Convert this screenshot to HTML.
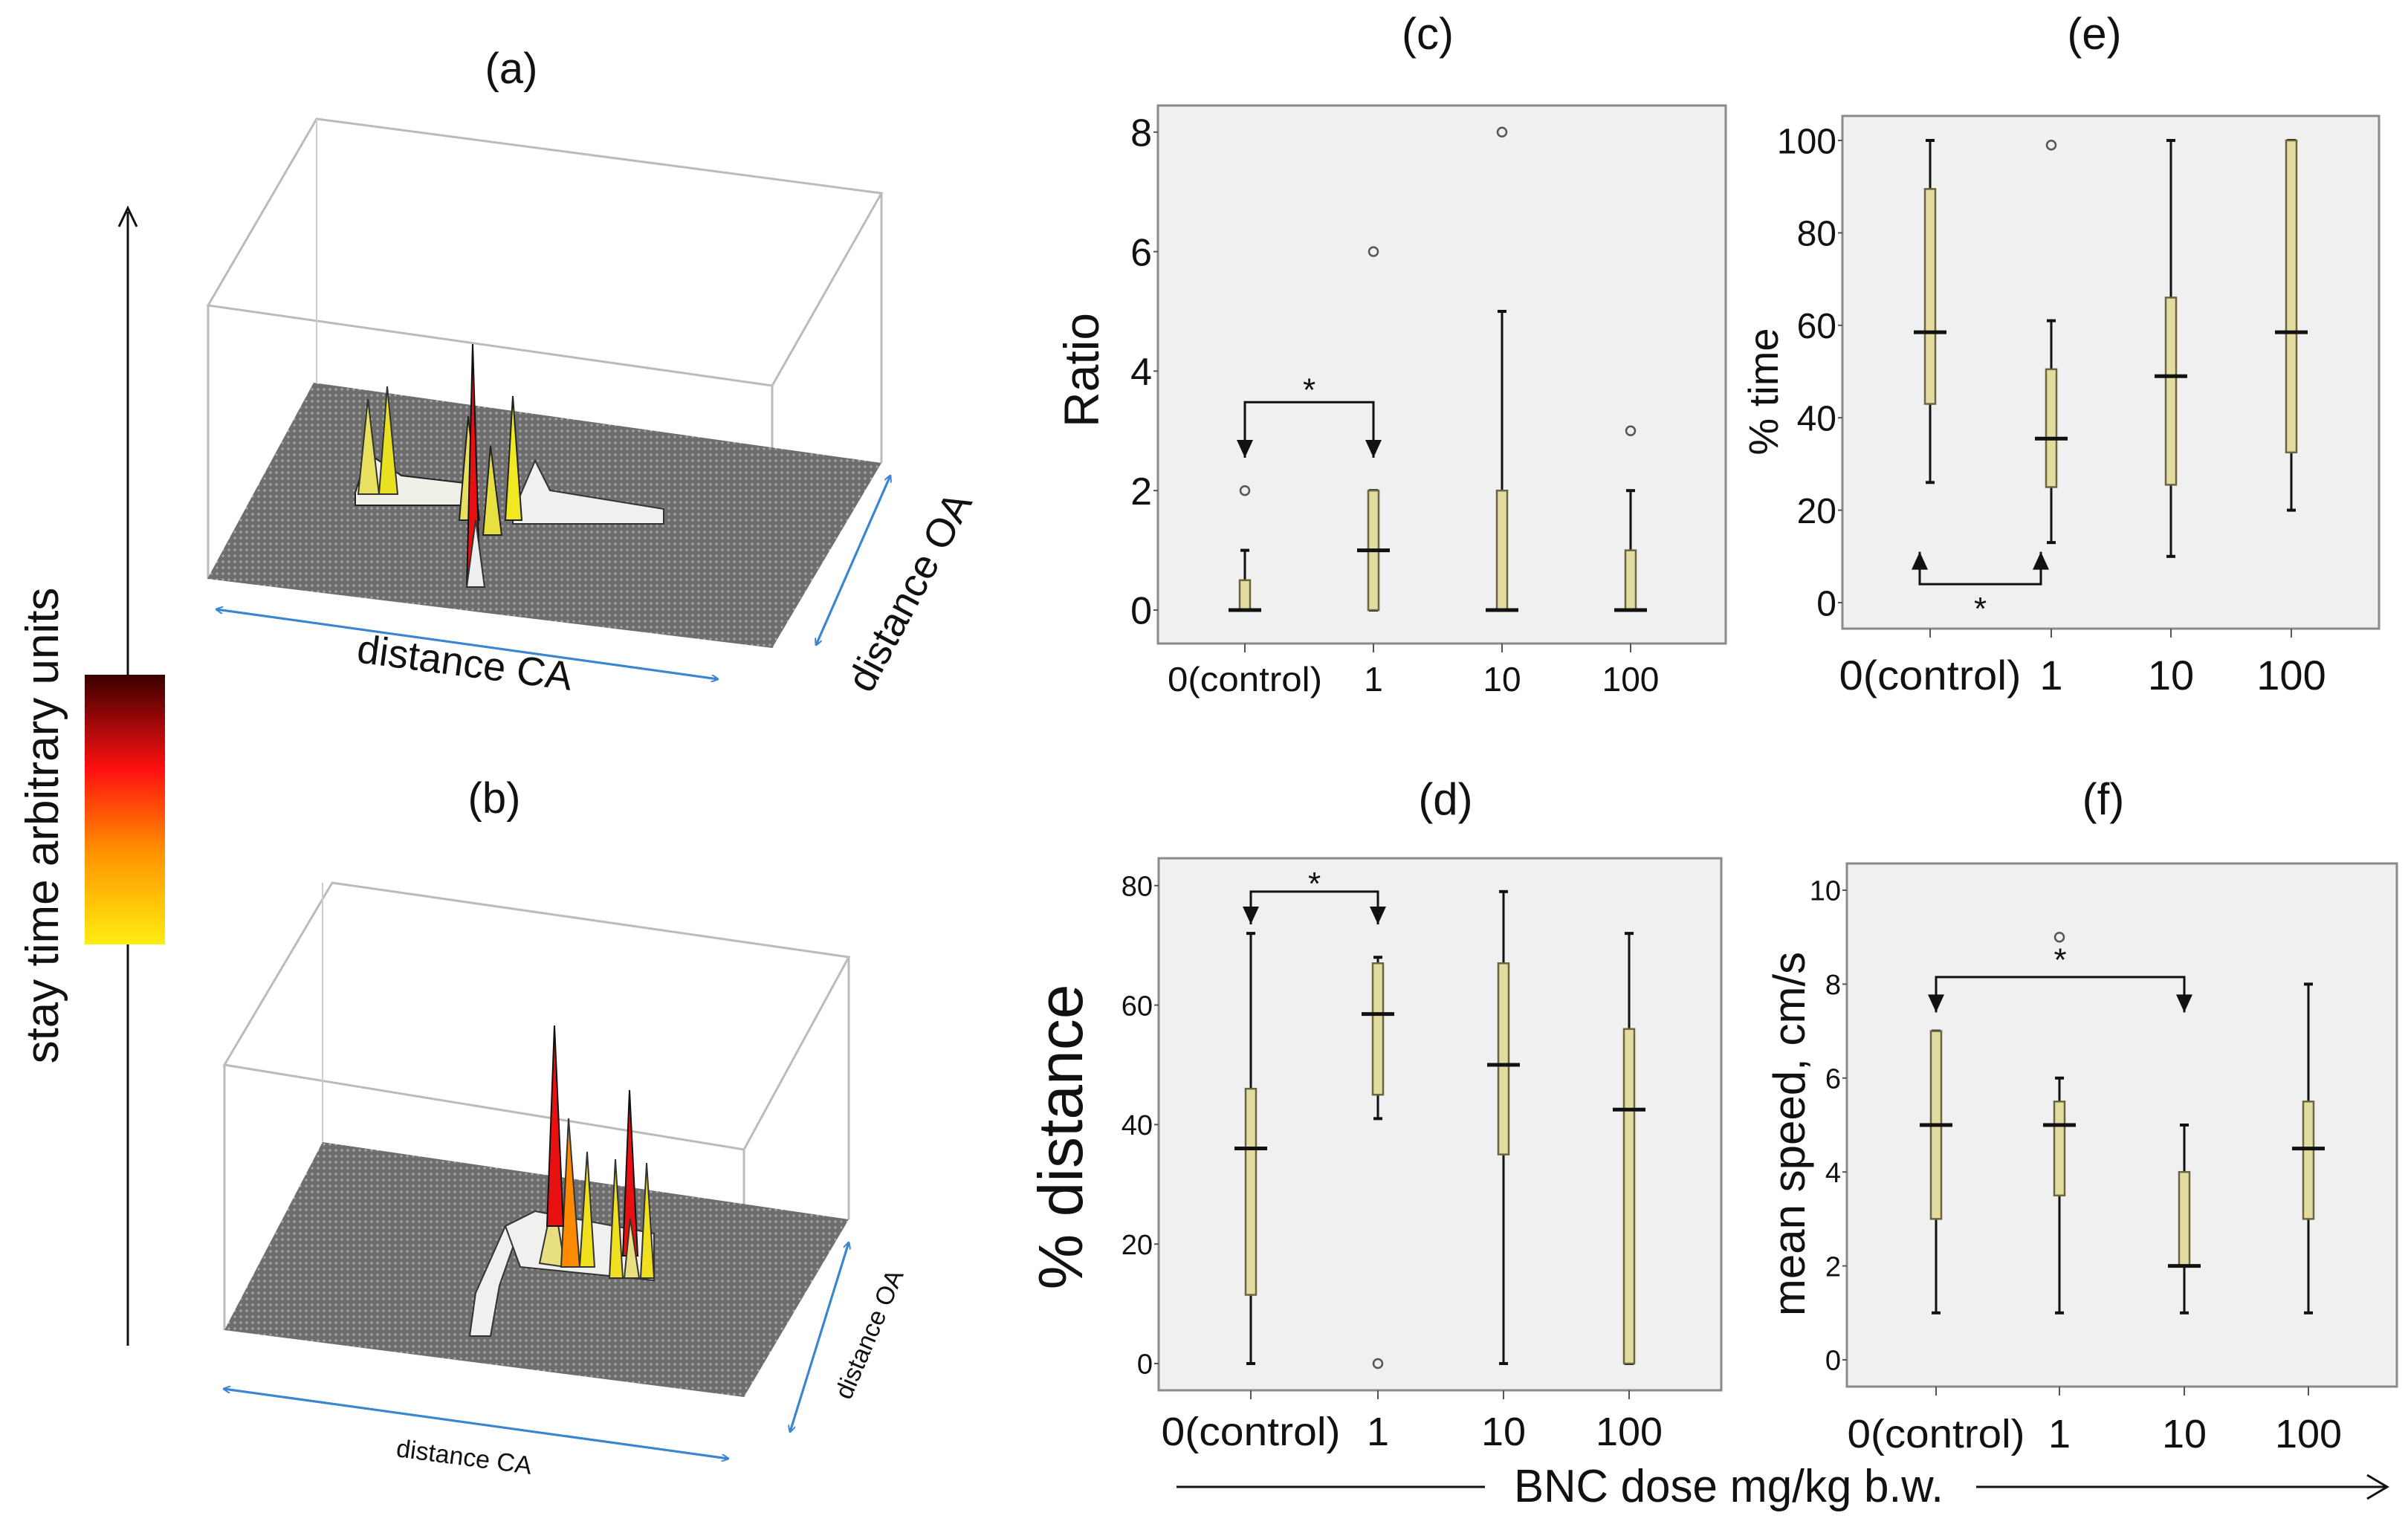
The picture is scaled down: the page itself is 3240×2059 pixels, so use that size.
<!DOCTYPE html>
<html><head><meta charset="utf-8">
<style>
html,body{margin:0;padding:0;background:#fff;}
svg{display:block;}
.t{font-family:"Liberation Sans Narrow","Liberation Sans",sans-serif;fill:#111;}
.s{font-family:"Liberation Sans",sans-serif;fill:#111;}
</style></head>
<body>
<svg id="fig" width="3240" height="2059" viewBox="0 0 3240 2059" xmlns="http://www.w3.org/2000/svg">
<defs>
<pattern id="mesh" width="8" height="8" patternUnits="userSpaceOnUse">
<rect width="8" height="8" fill="#6e6e6e"/><circle cx="4" cy="4" r="1.6" fill="#a8a8a8"/>
</pattern>
<linearGradient id="cbar" x1="0" y1="0" x2="0" y2="1">
<stop offset="0" stop-color="#3a0000"/><stop offset="0.35" stop-color="#ff1010"/>
<stop offset="0.65" stop-color="#ff9000"/><stop offset="1" stop-color="#ffee10"/>
</linearGradient>
<marker id="ah" markerWidth="10" markerHeight="10" refX="9" refY="5" orient="auto" markerUnits="userSpaceOnUse"><path d="M0,0 L10,5 L0,10" fill="none" stroke="#3a86d0" stroke-width="2"/></marker>
</defs>

<g>
<line x1="172" y1="1811" x2="172" y2="285" stroke="#111" stroke-width="3"/>
<path d="M160,305 L172,280 L184,305" fill="none" stroke="#111" stroke-width="3"/>
<rect x="114" y="908" width="108" height="363" fill="url(#cbar)"/>
<text class="s" font-size="62" transform="translate(78,1111) rotate(-90)" text-anchor="middle">stay time arbitrary units</text>
</g>

<g>
<text class="s" x="688" y="112" font-size="58" text-anchor="middle">(a)</text>
<polygon points="280,411 426,160 1186,260 1039,519" fill="none" stroke="#bbb" stroke-width="3"/>
<line x1="280" y1="411" x2="280" y2="779" stroke="#bbb" stroke-width="3"/>
<line x1="1186" y1="260" x2="1186" y2="623" stroke="#bbb" stroke-width="3"/>
<line x1="1039" y1="519" x2="1039" y2="872" stroke="#bbb" stroke-width="3"/>
<line x1="426" y1="160" x2="426" y2="515" stroke="#ccc" stroke-width="2"/>
<polygon points="279,779 422,515 1186,623 1039,872" fill="url(#mesh)"/>
<polygon points="478,663 495,610 540,640 625,650 630,680 478,680" fill="#f0f0e8" stroke="#222" stroke-width="2"/>
<polygon points="482,665 495,537 510,665" fill="#e8e060" stroke="#333" stroke-width="2"/>
<polygon points="510,665 521,520 535,665" fill="#e8e020" stroke="#333" stroke-width="2"/>
<polygon points="690,690 720,620 740,660 893,685 893,705 690,705" fill="#f0f0ee" stroke="#333" stroke-width="2"/>
<polygon points="618,700 630,560 645,700" fill="#e8e060" stroke="#222" stroke-width="2"/>
<polygon points="650,720 660,600 675,720" fill="#e8e040" stroke="#222" stroke-width="2"/>
<polygon points="680,700 690,533 702,700" fill="#f0e820" stroke="#222" stroke-width="2"/>
<polygon points="628,790 636,463 646,790" fill="#e81010" stroke="#111" stroke-width="2"/>
<polygon points="628,790 640,700 652,790" fill="#eee" stroke="#333" stroke-width="2"/>
<line x1="291" y1="820" x2="966" y2="914" stroke="#3a86d0" stroke-width="3" marker-end="url(#ah)"/>
<line x1="966" y1="914" x2="291" y2="820" stroke="#3a86d0" stroke-width="3" marker-end="url(#ah)"/>
<text class="s" font-size="54" transform="translate(623,910) rotate(7.5)" text-anchor="middle">distance CA</text>
<line x1="1198" y1="640" x2="1098" y2="868" stroke="#3a86d0" stroke-width="3" marker-end="url(#ah)"/>
<line x1="1098" y1="868" x2="1198" y2="640" stroke="#3a86d0" stroke-width="3" marker-end="url(#ah)"/>
<text class="s" font-size="54" transform="translate(1240,805) rotate(-62)" text-anchor="middle">distance OA</text>
</g>

<g>
<text class="s" x="665" y="1094" font-size="58" text-anchor="middle">(b)</text>
<polygon points="302,1433 447,1188 1142,1288 1001,1547" fill="none" stroke="#bbb" stroke-width="3"/>
<line x1="302" y1="1433" x2="302" y2="1790" stroke="#bbb" stroke-width="3"/>
<line x1="1142" y1="1288" x2="1142" y2="1641" stroke="#bbb" stroke-width="3"/>
<line x1="1001" y1="1547" x2="1001" y2="1880" stroke="#bbb" stroke-width="3"/>
<line x1="434" y1="1188" x2="434" y2="1537" stroke="#ccc" stroke-width="2"/>
<polygon points="302,1790 434,1537 1142,1641 1001,1880" fill="url(#mesh)"/>
<polygon points="632,1798 640,1740 680,1650 700,1650 672,1730 660,1798" fill="#f0f0ee" stroke="#333" stroke-width="2"/>
<polygon points="680,1650 720,1630 880,1660 880,1723 700,1705" fill="#f0f0ee" stroke="#333" stroke-width="2"/>
<polygon points="726,1700 745,1610 760,1705" fill="#e8e080" stroke="#333" stroke-width="2"/>
<polygon points="755,1705 765,1505 780,1705" fill="#ff8a00" stroke="#333" stroke-width="2"/>
<polygon points="780,1705 790,1550 800,1705" fill="#f0e020" stroke="#333" stroke-width="2"/>
<polygon points="820,1720 828,1560 838,1720" fill="#f0e020" stroke="#333" stroke-width="2"/>
<polygon points="862,1720 870,1565 880,1720" fill="#f0e020" stroke="#333" stroke-width="2"/>
<polygon points="736,1650 746,1380 758,1650" fill="#e81010" stroke="#111" stroke-width="2"/>
<polygon points="838,1690 847,1467 858,1690" fill="#e81010" stroke="#111" stroke-width="2"/>
<polygon points="840,1720 848,1640 860,1720" fill="#e8e080" stroke="#333" stroke-width="2"/>
<line x1="301" y1="1869" x2="980" y2="1963" stroke="#3a86d0" stroke-width="3" marker-end="url(#ah)"/>
<line x1="980" y1="1963" x2="301" y2="1869" stroke="#3a86d0" stroke-width="3" marker-end="url(#ah)"/>
<text class="s" font-size="34" transform="translate(623,1972) rotate(7.5)" text-anchor="middle">distance CA</text>
<line x1="1142" y1="1672" x2="1063" y2="1927" stroke="#3a86d0" stroke-width="3" marker-end="url(#ah)"/>
<line x1="1063" y1="1927" x2="1142" y2="1672" stroke="#3a86d0" stroke-width="3" marker-end="url(#ah)"/>
<text class="s" font-size="34" transform="translate(1180,1800) rotate(-67)" text-anchor="middle">distance OA</text>
</g>

<g>
<line x1="1583" y1="2001" x2="1998" y2="2001" stroke="#111" stroke-width="3"/>
<text class="t" x="2037" y="2021" font-size="62" textLength="578" lengthAdjust="spacingAndGlyphs">BNC dose mg/kg b.w.</text>
<line x1="2659" y1="2001" x2="3210" y2="2001" stroke="#111" stroke-width="3"/>
<path d="M3185,1985 L3212,2001 L3185,2017" fill="none" stroke="#111" stroke-width="3"/>
</g>
<g id="charts"></g>
</svg>
<script>
// ---- data ----
const categories = ["0(control)", "1", "10", "100"];
// panel c: Ratio
const cWlo = [0, 0, 0, 0], cQ1 = [0, 0, 0, 0], cMed = [0, 1, 0, 0], cQ3 = [0.5, 2, 2, 1], cWhi = [1, 2, 5, 2];
const cOut = [[2], [6], [8], [3]];
const cTicks = [0, 2, 4, 6, 8];
// panel e: % time
const eWlo = [26, 13, 10, 20], eQ1 = [43, 25, 25.5, 32.5], eMed = [58.5, 35.5, 49, 58.5], eQ3 = [89.5, 50.5, 66, 100], eWhi = [100, 61, 100, 100];
const eOut = [[], [99], [], []];
const eTicks = [0, 20, 40, 60, 80, 100];
// panel d: % distance
const dWlo = [0, 41, 0, 0], dQ1 = [11.5, 45, 35, 0], dMed = [36, 58.5, 50, 42.5], dQ3 = [46, 67, 67, 56], dWhi = [72, 68, 79, 72];
const dOut = [[], [0], [], []];
const dTicks = [0, 20, 40, 60, 80];
// panel f: mean speed
const fWlo = [1, 1, 1, 1], fQ1 = [3, 3.5, 2, 3], fMed = [5, 5, 2, 4.5], fQ3 = [7, 5.5, 4, 5.5], fWhi = [7, 6, 5, 8];
const fOut = [[], [9], [], []];
const fTicks = [0, 2, 4, 6, 8, 10];

const NS = "http://www.w3.org/2000/svg";
const root = document.getElementById("charts");
function mk(tag, attrs, parent) {
  const e = document.createElementNS(NS, tag);
  for (const k in attrs) e.setAttribute(k, attrs[k]);
  parent.appendChild(e);
  return e;
}
function panel(o) {
  const g = mk("g", {}, root);
  
  
  const y = v => o.y0 - (v - o.v0) * o.ppu;
  const x = i => o.xs[i];
  const fr = mk("rect", {x:o.L, y:o.T, width:o.R-o.L, height:o.B-o.T, fill:"#f0f0f0", stroke:"#8a8a8a", "stroke-width":3}, g);
  
  
  const tt = mk("text", {x:o.titleX, y:o.titleY, "font-size":60, "text-anchor":"middle", class:"t"}, g);
  tt.textContent = o.title;
  
  
  o.ticks.forEach(v => {
    mk("line", {x1:o.L-6, x2:o.L, y1:y(v), y2:y(v), stroke:"#555", "stroke-width":2}, g);
    const t = mk("text", {x:o.L-8, y:y(v)+o.tf*0.36, "font-size":o.tf, "text-anchor":"end", class:"t"}, g);
    t.textContent = v;
    
    
  });
  categories.forEach((c, i) => {
    mk("line", {x1:x(i), x2:x(i), y1:o.B, y2:o.B+12, stroke:"#555", "stroke-width":2}, g);
    const t = mk("text", {x:x(i), y:o.catY, "font-size":o.cf, "text-anchor":"middle", class:"t"}, g);
    if (i === 0) { t.setAttribute("textLength", o.c0w); t.setAttribute("lengthAdjust", "spacingAndGlyphs"); }
    t.textContent = c;
    
    
  });
  const yl = mk("text", {transform:`translate(${o.ylX},${o.ylY}) rotate(-90)`, "font-size":o.ylf, "text-anchor":"middle", class:"s"}, g);
  yl.textContent = o.ylabel;
  
  
  categories.forEach((c, i) => {
    const bx = mk("g", {}, g);
    
    
    mk("line", {x1:x(i), x2:x(i), y1:y(o.wlo[i]), y2:y(o.whi[i]), stroke:"#111", "stroke-width":3}, bx);
    [o.wlo[i], o.whi[i]].forEach(v => mk("line", {x1:x(i)-6, x2:x(i)+6, y1:y(v), y2:y(v), stroke:"#111", "stroke-width":4}, bx));
    const h = y(o.q1[i]) - y(o.q3[i]);
    if (h > 0) mk("rect", {x:x(i)-7, y:y(o.q3[i]), width:14, height:h, fill:"#e2dca0", stroke:"#6a6440", "stroke-width":2.5}, bx);
    mk("line", {x1:x(i)-22, x2:x(i)+22, y1:y(o.med[i]), y2:y(o.med[i]), stroke:"#111", "stroke-width":5}, bx);
    o.out[i].forEach(v => mk("circle", {cx:x(i), cy:y(v), r:6, fill:"none", stroke:"#555", "stroke-width":2.5}, bx));
  });
  const s = o.sig;
  const a = mk("g", {}, g);
  
  
  const xa = x(s.i) + (s.dx||0), xb = x(s.j) + (s.dx||0);
  const yb = y(s.bar), yt = y(s.tip);
  mk("polyline", {points:`${xa},${yt} ${xa},${yb} ${xb},${yb} ${xb},${yt}`, fill:"none", stroke:"#111", "stroke-width":3}, a);
  const dir = yt > yb ? 1 : -1;
  [xa, xb].forEach(xx => mk("polygon", {points:`${xx-11},${yt-24*dir} ${xx+11},${yt-24*dir} ${xx},${yt}`, fill:"#111"}, a));
  const st = mk("text", {x:(xa+xb)/2, y:y(s.star)+20, "font-size":44, "text-anchor":"middle", class:"s"}, a);
  st.textContent = "*";
}
panel({name:"panel-c-ratio", title:"(c)", titleX:1921, titleY:66, L:1558, R:2322, T:142, B:866, y0:821, v0:0, ppu:80.4,
  xs:[1675,1848,2021,2194], ticks:cTicks, tf:52, cf:46, c0w:208, catY:930, ylabel:"Ratio", ylX:1478, ylY:498, ylf:66,
  wlo:cWlo, q1:cQ1, med:cMed, q3:cQ3, whi:cWhi, out:cOut, sig:{i:0, j:1, bar:3.48, tip:2.55, star:3.75}});
panel({name:"panel-e-percent-time", title:"(e)", titleX:2818, titleY:66, L:2479, R:3201, T:156, B:846, y0:811, v0:0, ppu:6.22,
  xs:[2597,2760,2921,3083], ticks:eTicks, tf:48, cf:56, c0w:245, catY:928, ylabel:"% time", ylX:2392, ylY:527, ylf:56,
  wlo:eWlo, q1:eQ1, med:eMed, q3:eQ3, whi:eWhi, out:eOut, sig:{i:0, j:1, dx:-14, bar:4, tip:11, star:-0.5}});
panel({name:"panel-d-percent-distance", title:"(d)", titleX:1945, titleY:1096, L:1559, R:2316, T:1155, B:1871, y0:1835, v0:0, ppu:8.04,
  xs:[1683,1854,2023,2192], ticks:dTicks, tf:38, cf:54, c0w:241, catY:1945, ylabel:"% distance", ylX:1456, ylY:1530, ylf:84,
  wlo:dWlo, q1:dQ1, med:dMed, q3:dQ3, whi:dWhi, out:dOut, sig:{i:0, j:1, bar:79, tip:73.5, star:81}});
panel({name:"panel-f-mean-speed", title:"(f)", titleX:2830, titleY:1096, L:2485, R:3225, T:1162, B:1866, y0:1830, v0:0, ppu:63.2,
  xs:[2605,2771,2939,3106], ticks:fTicks, tf:38, cf:54, c0w:239, catY:1948, ylabel:"mean speed, cm/s", ylX:2428, ylY:1526, ylf:60,
  wlo:fWlo, q1:fQ1, med:fMed, q3:fQ3, whi:fWhi, out:fOut, sig:{i:0, j:2, dx:0, bar:8.15, tip:7.4, star:8.6}});
</script>
</body></html>
